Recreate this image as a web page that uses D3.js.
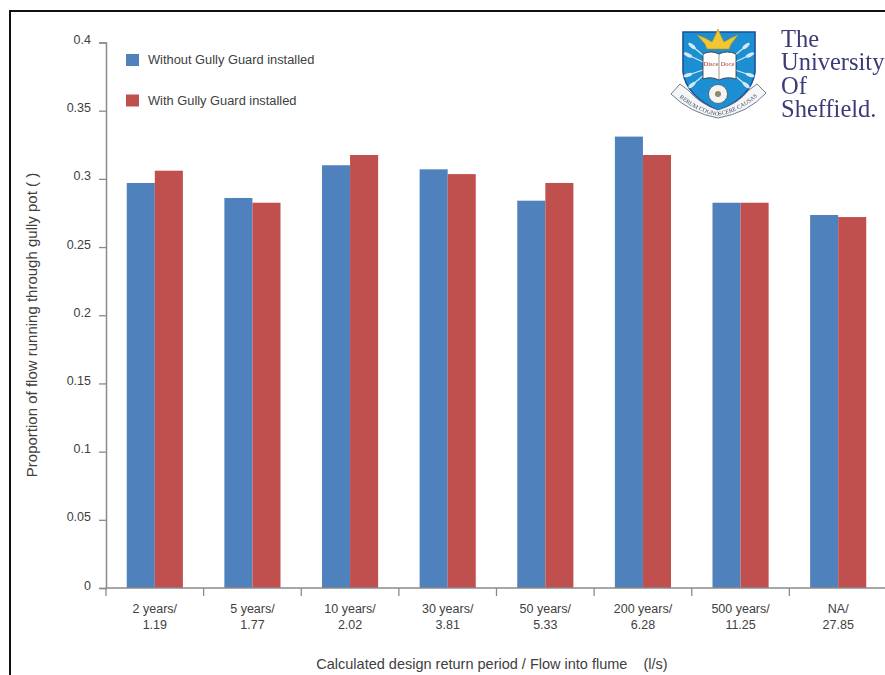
<!DOCTYPE html>
<html>
<head>
<meta charset="utf-8">
<script src="https://cdn.jsdelivr.net/npm/d3@7"></script>
<style>
html, body { margin:0; padding:0; background:#fff; overflow:hidden; }
svg { display:block; }
text { font-family:"Liberation Sans", Arial, sans-serif; }
</style>
</head>
<body>
<div id="chart-area"></div>
<script>
var categories = ["2 years/|1.19", "5 years/|1.77", "10 years/|2.02", "30 years/|3.81",
	"50 years/|5.33", "200 years/|6.28", "500 years/|11.25", "NA/|27.85"];
var seriesNames = ["Without Gully Guard installed", "With Gully Guard installed"];
var seriesColors = ["#4f81bd", "#c0504d"];
var withoutGuard = [0.297, 0.286, 0.310, 0.307, 0.284, 0.331, 0.2825, 0.2735];
var withGuard = [0.306, 0.2825, 0.3175, 0.3035, 0.297, 0.3175, 0.2825, 0.272];
var yTicks = [0, 0.05, 0.1, 0.15, 0.2, 0.25, 0.3, 0.35, 0.4];
var logoLines = ["The", "University", "Of", "Sheffield."];

var svg = d3.select("#chart-area")
	.append("svg")
	.attr("width", 885)
	.attr("height", 675);

// soft edge for the logo, it is a low-res bitmap in the original
svg.append("defs").append("filter")
	.attr("id", "soft")
	.append("feGaussianBlur")
		.attr("stdDeviation", 0.4);

// screenshot frame, only top and left are visible
svg.append("path")
	.attr("d", "M10,675V11H885")
	.attr("fill", "none")
	.attr("stroke", "#111")
	.attr("stroke-width", 2);

var x = d3.scaleBand()
	.domain(categories)
	.range([106, 887])
	.paddingInner(0.425)
	.paddingOuter(0.2125);

var x1 = d3.scaleBand()
	.domain([0, 1])
	.range([0, x.bandwidth()]);

var y = d3.scaleLinear()
	.domain([0, 0.4])
	.range([588, 42.5]);

/* Bars */
var groups = svg.selectAll("g.cat")
	.data(categories)
	.enter()
	.append("g")
		.attr("class", "cat")
		.attr("transform", function(d){ return "translate(" + x(d) + ",0)"; });

groups.selectAll("rect")
	.data(function(d, i){ return [withoutGuard[i], withGuard[i]]; })
	.enter()
	.append("rect")
		.attr("x", function(d, i){ return x1(i); })
		.attr("y", function(d){ return y(d); })
		.attr("width", x1.bandwidth())
		.attr("height", function(d){ return y(0) - y(d); })
		.attr("fill", function(d, i){ return seriesColors[i]; });

/* Y axis */
var yAxis = svg.append("g")
	.attr("transform", "translate(106,0)")
	.call(d3.axisLeft(y).tickValues(yTicks).tickSize(7).tickPadding(8)
		.tickFormat(function(d){ return String(+d.toFixed(2)); }));

yAxis.selectAll("line").attr("stroke", "#8a8a8a").attr("stroke-width", 1.3);
yAxis.select(".domain").attr("stroke", "#8a8a8a").attr("stroke-width", 1.5);
yAxis.selectAll("text")
	.attr("font-size", "12.5px")
	.attr("font-family", "Liberation Sans")
	.attr("fill", "#404040")
	.attr("dy", "0")
	.attr("y", 1)
	.attr("x", -15);

/* X axis, ticks sit between the groups so the labels are added by hand */
var xAxis = svg.append("g")
	.attr("transform", "translate(0,588)");

xAxis.append("line")
	.attr("x1", x.range()[0]).attr("x2", x.range()[1])
	.attr("stroke", "#8a8a8a").attr("stroke-width", 1.5);

xAxis.selectAll("line.tick")
	.data(categories)
	.enter()
	.append("line")
		.attr("class", "tick")
		.attr("x1", function(d){ return x(d) - x.step() * x.paddingInner() / 2; })
		.attr("x2", function(d){ return x(d) - x.step() * x.paddingInner() / 2; })
		.attr("y2", 8)
		.attr("stroke", "#8a8a8a")
		.attr("stroke-width", 1.3);

xAxis.selectAll("text.cat-label")
	.data(categories)
	.enter()
	.append("text")
		.attr("class", "cat-label")
		.attr("text-anchor", "middle")
		.attr("font-size", "12.5px")
		.attr("fill", "#404040")
		.each(function(d){
			var cx = x(d) + x.bandwidth() / 2;
			var el = d3.select(this);
			d.split("|").forEach(function(part, i){
				el.append("tspan")
					.attr("x", cx)
					.attr("y", 25 + i * 16)
					.text(part);
			});
		});

/* Axis titles */
svg.append("text")
	.attr("x", 492)
	.attr("y", 669)
	.attr("text-anchor", "middle")
	.attr("font-size", "14.5px")
	.attr("fill", "#404040")
	.attr("xml:space", "preserve")
	.text("Calculated design return period / Flow into flume    (l/s)");

svg.append("text")
	.attr("transform", "translate(37,325) rotate(-90)")
	.attr("text-anchor", "middle")
	.attr("font-size", "15px")
	.attr("fill", "#404040")
	.text("Proportion of flow running through gully pot ( )");

/* Legend */
var legend = svg.selectAll("g.legend")
	.data(seriesNames)
	.enter()
	.append("g")
		.attr("class", "legend")
		.attr("transform", function(d, i){ return "translate(126," + (54 + i * 40.5) + ")"; });

legend.append("rect")
	.attr("width", 13)
	.attr("height", 12)
	.attr("fill", function(d, i){ return seriesColors[i]; });

legend.append("text")
	.attr("x", 22)
	.attr("y", 10)
	.attr("font-size", "12.85px")
	.attr("fill", "#404040")
	.text(function(d){ return d; });

/* University logo */
var logo = svg.append("g").attr("filter", "url(#soft)");

logo.append("path")
	.attr("d", "M683,32 L755,32 L755,72 Q752,96 719,111 Q686,96 683,72 Z")
	.attr("fill", "#1b8fd2")
	.attr("stroke", "#1c4f9c")
	.attr("stroke-width", 1.6);

// oars fanning out behind the book, blades on the outer end
[[692, 46, 704, 56], [688, 55, 703, 62], [692, 85, 704, 75], [688, 75, 703, 70],
 [746, 46, 734, 56], [750, 55, 735, 62], [746, 85, 734, 75], [750, 75, 735, 70]].forEach(function(l){
	logo.append("line")
		.attr("x1", l[0]).attr("y1", l[1]).attr("x2", l[2]).attr("y2", l[3])
		.attr("stroke", "#d6e8f4").attr("stroke-width", 1.2);
	logo.append("ellipse")
		.attr("cx", l[0]).attr("cy", l[1])
		.attr("rx", 4.5).attr("ry", 1.8)
		.attr("transform", "rotate(" + (Math.atan2(l[3] - l[1], l[2] - l[0]) * 180 / Math.PI) + " " + l[0] + " " + l[1] + ")")
		.attr("fill", "#d6e8f4");
});

// crown
logo.append("path")
	.attr("d", "M705,38 L712,42 L715,36 L718,29 L721,36 L724,42 L731,38 L738,35 L731,44 L729,49 L707,49 L705,44 L697,35 Z")
	.attr("fill", "#f2c531")
	.attr("stroke", "#b88f1c")
	.attr("stroke-width", 0.6);

// book
logo.append("path")
	.attr("d", "M703,54 Q711,50 719,54 Q727,50 736,54 L736,79 Q727,76 719,80 Q711,76 703,79 Z")
	.attr("fill", "#fff")
	.attr("stroke", "#333")
	.attr("stroke-width", 0.8);
logo.append("line")
	.attr("x1", 719).attr("y1", 54).attr("x2", 719).attr("y2", 80)
	.attr("stroke", "#555").attr("stroke-width", 0.6);
["Disce", "Doce"].forEach(function(t, i){
	logo.append("text")
		.attr("x", 711 + i * 16.5)
		.attr("y", 66)
		.attr("text-anchor", "middle")
		.style("font-family", "'Liberation Serif', serif")
		.attr("font-size", "6.5px")
		.attr("fill", "#a5322f")
		.text(t);
});

// rose
logo.append("circle").attr("cx", 718).attr("cy", 94).attr("r", 9.5).attr("fill", "#f4f4f4").attr("stroke", "#555").attr("stroke-width", 0.8);
logo.append("circle").attr("cx", 718).attr("cy", 94).attr("r", 3).attr("fill", "#8b8b6a");

// motto ribbon, text runs along its centre line
logo.append("path")
	.attr("d", "M671,94 L680,84 L688,90 Q700,104 718,110 Q738,104 749,90 L757,84 L766,93 Q748,113 718,118 Q690,113 671,94 Z")
	.attr("fill", "#f6f6f6")
	.attr("stroke", "#4a5a78")
	.attr("stroke-width", 0.8);
svg.select("defs").append("path")
	.attr("id", "motto-path")
	.attr("d", "M675,93 Q692,111 718,116 Q744,111 762,92");
logo.append("text")
	.attr("font-size", "6px")
	.attr("fill", "#3a4a68")
	.style("font-family", "'Liberation Serif', serif")
	.attr("text-anchor", "middle")
	.append("textPath")
		.attr("href", "#motto-path")
		.attr("startOffset", "50%")
		.text("RERUM COGNOSCERE CAUSAS");

logo.selectAll("text.wordmark")
	.data(logoLines)
	.enter()
	.append("text")
		.attr("class", "wordmark")
		.attr("x", 781)
		.attr("y", function(d, i){ return 47 + i * 23.4; })
		.style("font-family", "'Liberation Serif', serif")
		.attr("font-size", "24.5px")
		.attr("fill", "#3b3a78")
		.text(function(d){ return d; });
</script>
</body>
</html>
